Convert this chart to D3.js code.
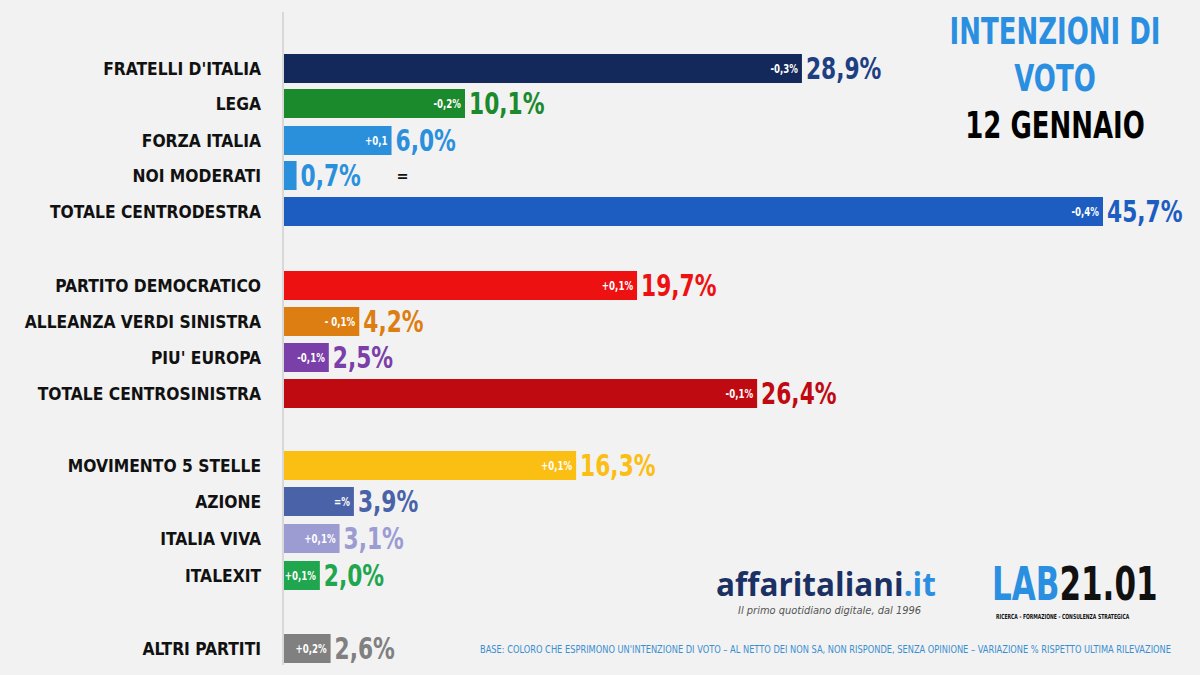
<!DOCTYPE html>
<html><head><meta charset="utf-8">
<script src="https://cdn.jsdelivr.net/npm/d3@7"></script>
<style>
body{margin:0;background:#f2f2f2;}
text{font-family:"DejaVu Sans Condensed","Liberation Sans Narrow","Roboto",sans-serif;font-weight:bold;}
</style></head><body>
<div id="chart"></div>
<script>
var parties = ["FRATELLI D'ITALIA","LEGA","FORZA ITALIA","NOI MODERATI","TOTALE CENTRODESTRA",
  "PARTITO DEMOCRATICO","ALLEANZA VERDI SINISTRA","PIU' EUROPA","TOTALE CENTROSINISTRA",
  "MOVIMENTO 5 STELLE","AZIONE","ITALIA VIVA","ITALEXIT","ALTRI PARTITI"];
var values = [28.9,10.1,6.0,0.7,45.7,19.7,4.2,2.5,26.4,16.3,3.9,3.1,2.0,2.6];
var changes = ["-0,3%","-0,2%","+0,1","","-0,4%","+0,1%","- 0,1%","-0,1%","-0,1%","+0,1%","=%","+0,1%","+0,1%","+0,2%"];
var colors = ["#13295b","#1b8a2c","#2b90dc","#2b90dc","#1d5cc0","#ee1111","#dc7e12","#7a3fa8","#bf0a12","#fbbe12","#4a63a8","#9c9cd2","#1fa64e","#808080"];
var textColors = ["#1e3f82","#1b8a2c","#2b90dc","#2b90dc","#1d5cc0","#ee1111","#dc7e12","#7a3fa8","#bf0a12","#fbbe12","#4a63a8","#9c9cd2","#1fa64e","#808080"];
var rowPos = [68,103,140,175,211,285,321,357,393,465,501,538,575,648];

var width = 1200, height = 675;
var svg = d3.select("#chart").append("svg").attr("width", width).attr("height", height);
svg.append("rect").attr("width", width).attr("height", height).attr("fill", "#f2f2f2");

var x = d3.scaleLinear().domain([0, 45.7]).range([284, 1103]);
var fmt = function(v) { return d3.format(".1f")(v).replace(".", ",") + "%"; };

// condensed text: put it in a translated, horizontally squeezed group
function ctext(parent, px, py, sx) {
  return parent.append("g").attr("transform", "translate(" + px + "," + py + ") scale(" + sx + ",1)")
    .append("text");
}

svg.append("line").attr("x1", 283).attr("x2", 283).attr("y1", 12).attr("y2", 665)
  .attr("stroke", "#cfcfcf").attr("stroke-width", 1.5);

var rows = svg.selectAll("g.row").data(parties).enter().append("g")
  .attr("class", "row")
  .attr("transform", function(d, i) { return "translate(0," + rowPos[i] + ")"; });

rows.append("rect")
  .attr("x", x(0))
  .attr("y", -14)
  .attr("height", 29)
  .attr("width", function(d, i) { return x(values[i]) - x(0); })
  .attr("fill", function(d, i) { return colors[i]; });

rows.each(function(d, i) {
  var g = d3.select(this);
  ctext(g, 261, 7, 0.96).attr("text-anchor", "end").attr("font-size", 18)
    .attr("fill", "#111").text(d);
  ctext(g, x(values[i]) - 4, 5, 0.8).attr("text-anchor", "end").attr("font-size", 12)
    .attr("fill", "#fff").text(changes[i]);
  ctext(g, x(values[i]) + 4, 11, 0.78).attr("font-size", 31)
    .attr("fill", textColors[i]).text(fmt(values[i]));
});

// noi moderati change shown after the value
svg.append("text").attr("x", x(0.7) + 100).attr("y", rowPos[3] + 6)
  .attr("font-size", 16).attr("fill", "#111").text("=");

// title
ctext(svg, 1055, 44, 0.76).attr("text-anchor", "middle").attr("font-size", 38)
  .attr("fill", "#2a8fe0").text("INTENZIONI DI");
ctext(svg, 1055, 91, 0.76).attr("text-anchor", "middle").attr("font-size", 38)
  .attr("fill", "#2a8fe0").text("VOTO");
ctext(svg, 1055, 138, 0.76).attr("text-anchor", "middle").attr("font-size", 38)
  .attr("fill", "#000").text("12 GENNAIO");

// logos
svg.append("text").attr("x", 716).attr("y", 596).attr("font-size", 31.5)
  .style("font-family", "'Open Sans',sans-serif").attr("fill", "#1b3163")
  .text("affaritaliani").append("tspan").attr("fill", "#2a8fe0").text(".it");
svg.append("text").attr("x", 738).attr("y", 614).attr("font-size", 11)
  .style("font-weight", "normal").style("font-style", "italic").attr("fill", "#555")
  .text("Il primo quotidiano digitale, dal 1996");
ctext(svg, 992, 600, 0.75).attr("font-size", 46)
  .attr("fill", "#2a8fe0").text("LAB").append("tspan").attr("fill", "#111").text("21.01");
ctext(svg, 996, 619, 0.72).attr("font-size", 7)
  .attr("fill", "#111").text("RICERCA - FORMAZIONE - CONSULENZA STRATEGICA");
ctext(svg, 480, 653, 0.92).attr("font-size", 10)
  .style("font-weight", "normal").attr("fill", "#3a8fd0")
  .text("BASE: COLORO CHE ESPRIMONO UN'INTENZIONE DI VOTO – AL NETTO DEI NON SA, NON RISPONDE, SENZA OPINIONE – VARIAZIONE % RISPETTO ULTIMA RILEVAZIONE");
</script></body></html>
